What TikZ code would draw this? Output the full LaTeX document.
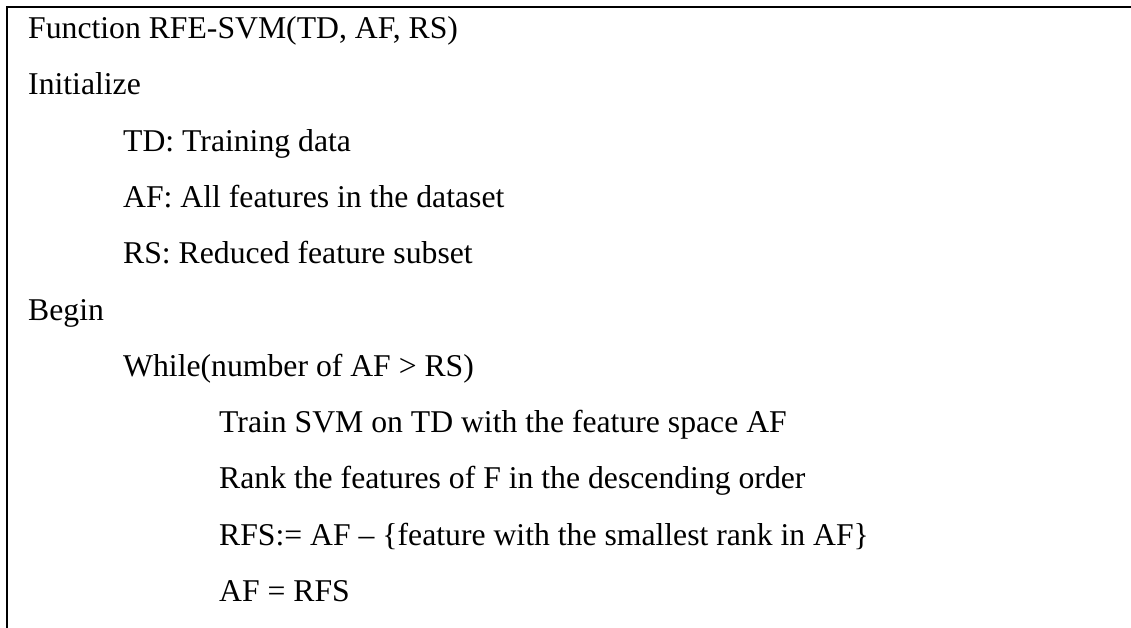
\documentclass[tikz,border=0pt]{standalone}
\usepackage{fontspec}
\setmainfont{Liberation Serif}
\usepackage{tikz}
\usetikzlibrary{positioning}

\begin{document}
\begin{tikzpicture}[x=1pt, y=1pt,
    frameline/.style={line width=2pt, black},
    codeline/.style={anchor=base west, inner sep=0pt, font=\fontsize{31.7}{36}\selectfont}]
    \useasboundingbox (0,0) rectangle (1131,-628);
    % frame: top and left side only
    \draw [frameline] (7,-628) -- (7,-7) -- (1131,-7);
    % header and declarations
    \node [codeline] (func) at (28,-38.5) {Function RFE-SVM(TD, AF, RS)};
    \node [codeline] (init) at (28,-94.8) {Initialize};
    \node [codeline] (td) at (123,-151.1) {TD: Training data};
    \node [codeline] (af) at (123,-207.4) {AF: All features in the dataset};
    \node [codeline] (rs) at (123,-263.7) {RS: Reduced feature subset};
    % main loop
    \node [codeline] (begin) at (28,-320) {Begin};
    \node [codeline] (while) at (123,-376.3) {While(number of AF > RS)};
    \node [codeline] (train) at (219,-432.6) {Train SVM on TD with the feature space AF};
    \node [codeline] (rank) at (219,-488.9) {Rank the features of F in the descending order};
    \node [codeline] (rfs) at (219,-545.2) {RFS:= AF – \{feature with the smallest rank in AF\}};
    \node [codeline] (upd) at (219,-601.5) {AF = RFS};
\end{tikzpicture}
\end{document}
